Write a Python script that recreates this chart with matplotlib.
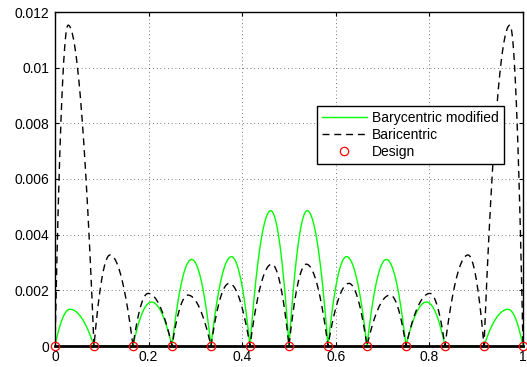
import numpy as np
import matplotlib
matplotlib.use("Agg")
import matplotlib.pyplot as plt

# design nodes (13 equally spaced points on [0, 1])
design_x = [0, 1/12, 2/12, 3/12, 4/12, 5/12, 6/12, 7/12, 8/12, 9/12, 10/12, 11/12, 1]
design_y = [0] * 13

# peak height of each arch between consecutive nodes
mod_peak = [0.00132, 0.0, 0.00158, 0.00311, 0.00321, 0.00486,
            0.00486, 0.00321, 0.00311, 0.00158, 0.0, 0.00132]
mod_peak_x = [0.032, 0.125, 0.206, 0.292, 0.377, 0.461,
              0.539, 0.623, 0.708, 0.794, 0.875, 0.968]

bar_peak = [0.01153, 0.00327, 0.00189, 0.00183, 0.00225, 0.00294,
            0.00294, 0.00225, 0.00183, 0.00189, 0.00327, 0.01153]
bar_peak_x = [0.028, 0.1175, 0.199, 0.284, 0.372, 0.463,
              0.537, 0.628, 0.716, 0.801, 0.8825, 0.972]


def arches(nodes, peaks, peak_x, n=60):
    """Build one curve made of arches that vanish at every node."""
    xs, ys = [], []
    for a, b, h, px in zip(nodes[:-1], nodes[1:], peaks, peak_x):
        t = np.linspace(0, 1, n)
        tp = (px - a) / (b - a)
        s = np.where(t < tp, 1 - ((t - tp) / tp) ** 2, 1 - ((t - tp) / (1 - tp)) ** 2)
        xs.append(a + t * (b - a))
        ys.append(h * s)
    return np.concatenate(xs), np.concatenate(ys)


plt.rcParams["font.family"] = ["Liberation Sans", "DejaVu Sans"]
plt.rcParams["font.size"] = 10

fig = plt.figure(figsize=(5.27, 3.67), dpi=100)
ax = fig.add_axes([55 / 527, 21 / 367, 468 / 527, 334 / 367])

x_mod, y_mod = arches(design_x, mod_peak, mod_peak_x)
x_bar, y_bar = arches(design_x, bar_peak, bar_peak_x)

ax.plot(x_mod, y_mod, color="#00ff00", linewidth=1.0, label="Barycentric modified")
ax.plot(x_bar, y_bar, color="black", linewidth=1.0, dashes=(5, 3.5), label="Baricentric")
ax.plot(design_x, design_y, linestyle="none", marker="o", markersize=6,
        markerfacecolor="none", markeredgecolor="red", markeredgewidth=0.9,
        label="Design", clip_on=False, zorder=5)

ax.set_xlim(0, 1)
ax.set_ylim(0, 0.012)
ax.set_xticks([0, 0.2, 0.4, 0.6, 0.8, 1])
ax.set_xticklabels(["0", "0.2", "0.4", "0.6", "0.8", "1"])
ax.set_yticks([0, 0.002, 0.004, 0.006, 0.008, 0.01, 0.012])
ax.set_yticklabels(["0", "0.002", "0.004", "0.006", "0.008", "0.01", "0.012"])
ax.tick_params(direction="in", length=3, width=0.8, top=True, right=True, labelsize=10)
ax.tick_params(axis="y", pad=4)
ax.tick_params(axis="x", pad=3)

ax.grid(True, color="black", linestyle=(0, (1, 3.5)), linewidth=0.6, alpha=0.7)
for side in ax.spines.values():
    side.set_linewidth(1.0)
ax.spines["bottom"].set_linewidth(2.0)

leg = ax.legend(loc="upper right", bbox_to_anchor=(0.959, 0.719), borderaxespad=0,
                fontsize=10, numpoints=1, handlelength=3.2, handletextpad=0.4,
                labelspacing=0.22, borderpad=0.35, fancybox=False,
                framealpha=1, edgecolor="black")
leg.get_frame().set_linewidth(1.0)

fig.savefig("out.png", dpi=100)
